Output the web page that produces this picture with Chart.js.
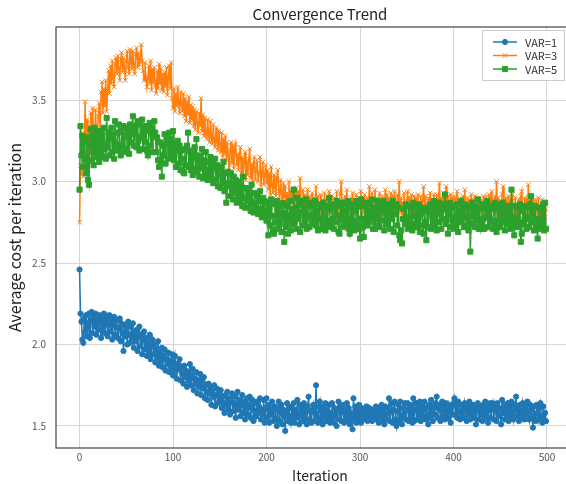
<!DOCTYPE html>
<html>
<head>
<meta charset="utf-8">
<script src="https://cdn.jsdelivr.net/npm/chart.js@4.4.1/dist/chart.umd.min.js"></script>
<style>
  html, body { margin: 0; padding: 0; background: #fff; overflow: hidden; }
  #wrap { width: 566px; height: 484px; overflow: hidden; position: relative; }
  canvas { position: absolute; left: 0; top: 0; }
</style>
</head>
<body>
<div id="wrap"><canvas id="chart" width="600" height="484"></canvas></div>
<script>
// axis ticks and series names
const xTicks = [0, 100, 200, 300, 400, 500];
const yTicks = [1.5, 2.0, 2.5, 3.0, 3.5];
const seriesNames = ['VAR=1', 'VAR=3', 'VAR=5'];

// average cost per iteration, one value per iteration (0..499)
const var1 = [
  2.46,2.19,2.14,2.03,2.01,2.16,2.08,2.18,2.05,2.13, 2.19,2.04,2.15,2.20,2.07,2.17,2.11,2.19,2.06,2.15,
  2.09,2.18,2.13,2.04,2.16,2.10,2.19,2.07,2.14,2.17, 2.05,2.12,2.18,2.08,2.15,2.03,2.13,2.17,2.06,2.11,
  2.15,2.04,2.10,2.16,2.02,2.13,2.07,1.96,2.12,2.05, 2.10,2.00,2.14,2.06,2.01,2.11,2.04,2.13,1.98,2.07,
  2.02,2.09,1.96,2.05,2.11,1.99,2.06,1.94,2.03,2.08, 1.97,2.04,1.93,2.01,1.95,2.06,1.91,1.99,2.03,1.94,
  2.00,1.89,1.97,1.92,2.02,1.87,1.95,1.90,1.98,1.86, 1.93,1.97,1.84,1.91,1.88,1.95,1.83,1.90,1.86,1.94,
  1.81,1.89,1.93,1.84,1.79,1.88,1.85,1.91,1.78,1.86, 1.82,1.76,1.87,1.80,1.84,1.74,1.83,1.78,1.88,1.75,
  1.81,1.85,1.72,1.79,1.76,1.83,1.70,1.78,1.74,1.82, 1.69,1.77,1.73,1.80,1.67,1.75,1.71,1.66,1.76,1.70,
  1.74,1.63,1.71,1.68,1.75,1.62,1.69,1.73,1.64,1.70, 1.66,1.72,1.61,1.68,1.64,1.58,1.69,1.63,1.71,1.60,
  1.67,1.57,1.65,1.70,1.59,1.64,1.68,1.55,1.62,1.71, 1.60,1.66,1.56,1.63,1.69,1.58,1.65,1.54,1.62,1.67,
  1.57,1.63,1.68,1.55,1.61,1.66,1.53,1.64,1.59,1.56, 1.65,1.58,1.62,1.67,1.54,1.60,1.57,1.66,1.52,1.61,
  1.67,1.55,1.63,1.52,1.60,1.57,1.65,1.53,1.59,1.62, 1.55,1.50,1.61,1.65,1.53,1.58,1.63,1.51,1.60,1.56,
  1.47,1.59,1.64,1.53,1.62,1.56,1.52,1.61,1.55,1.64, 1.52,1.60,1.55,1.66,1.58,1.51,1.63,1.56,1.61,1.53,
  1.64,1.55,1.60,1.51,1.62,1.68,1.54,1.59,1.52,1.60, 1.63,1.53,1.58,1.75,1.56,1.52,1.62,1.65,1.54,1.59,
  1.51,1.62,1.56,1.64,1.53,1.60,1.55,1.63,1.52,1.58, 1.64,1.55,1.52,1.61,1.57,1.50,1.60,1.65,1.54,1.62,
  1.53,1.59,1.63,1.52,1.60,1.55,1.64,1.53,1.61,1.51, 1.58,1.54,1.48,1.67,1.55,1.62,1.52,1.60,1.54,1.63,
  1.56,1.52,1.61,1.58,1.54,1.60,1.55,1.62,1.53,1.59, 1.61,1.55,1.58,1.53,1.60,1.54,1.57,1.62,1.55,1.60,
  1.52,1.61,1.56,1.63,1.53,1.59,1.51,1.62,1.57,1.54, 1.61,1.67,1.53,1.59,1.64,1.52,1.60,1.65,1.54,1.50,
  1.59,1.63,1.53,1.65,1.56,1.51,1.61,1.57,1.64,1.54, 1.60,1.64,1.53,1.61,1.55,1.63,1.52,1.67,1.53,1.60,
  1.64,1.54,1.61,1.57,1.65,1.53,1.62,1.56,1.60,1.65, 1.54,1.61,1.57,1.51,1.63,1.55,1.66,1.58,1.53,1.62,
  1.57,1.64,1.68,1.55,1.61,1.63,1.53,1.60,1.65,1.56, 1.62,1.54,1.64,1.58,1.55,1.63,1.60,1.52,1.62,1.57,
  1.64,1.67,1.57,1.63,1.55,1.65,1.59,1.54,1.63,1.58, 1.62,1.55,1.64,1.60,1.53,1.63,1.57,1.65,1.54,1.61,
  1.57,1.63,1.55,1.61,1.51,1.60,1.64,1.54,1.62,1.57, 1.61,1.53,1.63,1.57,1.65,1.55,1.62,1.52,1.60,1.64,
  1.55,1.61,1.64,1.54,1.60,1.63,1.53,1.64,1.57,1.61, 1.56,1.51,1.66,1.58,1.63,1.54,1.61,1.57,1.64,1.53,
  1.62,1.55,1.65,1.58,1.54,1.63,1.60,1.68,1.56,1.62, 1.53,1.63,1.58,1.55,1.64,1.60,1.54,1.62,1.57,1.65,
  1.58,1.54,1.63,1.60,1.55,1.49,1.62,1.57,1.53,1.63, 1.58,1.54,1.61,1.64,1.56,1.52,1.62,1.53,1.58,1.53
];
const var3 = [
  2.75,3.10,3.04,3.30,3.03,3.20,3.49,3.12,3.38,3.05, 3.34,3.17,3.42,3.22,3.45,3.28,3.19,3.44,3.30,3.24,
  3.40,3.48,3.31,3.55,3.61,3.42,3.57,3.46,3.62,3.43, 3.56,3.68,3.54,3.71,3.60,3.74,3.63,3.58,3.72,3.76,
  3.66,3.77,3.69,3.62,3.75,3.79,3.67,3.76,3.70,3.62, 3.74,3.80,3.70,3.66,3.81,3.73,3.69,3.80,3.71,3.66,
  3.78,3.82,3.70,3.79,3.72,3.75,3.84,3.74,3.68,3.62, 3.73,3.64,3.58,3.63,3.71,3.60,3.74,3.56,3.69,3.61,
  3.70,3.59,3.54,3.68,3.57,3.72,3.60,3.69,3.56,3.66, 3.55,3.67,3.58,3.70,3.53,3.64,3.71,3.57,3.73,3.51,
  3.45,3.57,3.43,3.54,3.46,3.58,3.48,3.42,3.55,3.47, 3.43,3.54,3.40,3.51,3.37,3.49,3.41,3.52,3.36,3.47,
  3.38,3.46,3.34,3.44,3.32,3.43,3.36,3.30,3.42,3.34, 3.51,3.31,3.41,3.28,3.39,3.30,3.26,3.38,3.29,3.24,
  3.37,3.27,3.23,3.35,3.25,3.21,3.33,3.24,3.19,3.31, 3.22,3.18,3.30,3.15,3.26,3.17,3.28,3.13,3.24,3.16,
  3.02,3.19,3.24,3.11,3.22,3.08,3.20,3.23,3.10,3.17, 3.07,3.16,3.21,3.05,3.15,3.03,3.13,3.18,3.01,3.12,
  3.04,3.14,3.20,3.02,3.11,2.99,3.10,3.15,3.01,3.07, 3.13,3.00,3.06,3.15,2.97,3.05,3.12,2.98,3.04,3.10,
  2.99,3.07,2.95,3.05,2.92,3.09,2.98,2.93,3.04,2.96, 2.91,3.02,3.07,2.94,2.89,3.01,2.93,2.87,2.99,2.90,
  2.97,2.86,2.93,2.88,3.00,2.84,2.94,2.87,2.96,2.85, 2.93,2.83,2.96,2.86,2.94,2.85,3.02,2.88,2.82,2.95,
  2.84,2.92,2.81,2.90,2.95,2.83,2.91,2.80,2.89,2.93, 2.82,2.90,2.84,2.97,2.81,2.91,2.85,2.79,2.92,2.83,
  2.89,2.80,2.93,2.84,2.78,2.90,2.82,2.94,2.86,2.81, 2.91,2.83,2.79,2.90,2.82,2.94,2.85,2.80,2.88,2.93,
  3.00,2.82,2.89,2.79,2.91,2.84,2.95,2.81,2.88,2.78, 2.90,2.83,2.93,2.80,2.89,2.82,2.92,2.85,2.78,2.90,
  2.83,2.94,2.80,2.89,2.82,2.92,2.85,2.79,2.90,2.83, 2.97,2.86,2.81,2.93,2.83,2.80,2.95,2.84,2.90,2.81,
  2.88,2.93,2.82,2.79,2.91,2.84,2.81,2.95,2.86,2.92, 2.82,2.90,2.79,2.93,2.84,2.91,2.80,2.94,2.86,2.82,
  2.92,2.84,3.00,2.81,2.90,2.79,2.87,2.93,2.83,2.78, 2.88,2.94,2.82,2.90,2.80,2.92,2.84,2.81,2.91,2.83,
  2.90,2.80,2.92,2.84,2.81,2.91,2.83,2.88,2.97,2.82, 2.91,2.83,2.79,2.90,2.85,2.93,2.81,2.89,2.80,2.92,
  2.85,2.81,2.92,2.83,2.89,2.99,2.80,2.90,2.84,2.93, 2.82,2.89,2.97,2.83,2.91,2.79,2.86,2.92,2.81,2.90,
  2.83,2.91,2.80,2.89,2.94,2.82,2.87,2.78,2.90,2.84, 2.91,2.80,2.95,2.85,2.81,2.90,2.78,2.89,2.83,2.92,
  2.81,2.89,2.83,2.91,2.79,2.86,2.73,2.84,2.90,2.81, 2.88,2.82,2.91,2.84,2.80,2.90,2.87,2.79,2.92,2.83,
  2.89,2.94,2.82,2.86,2.91,2.80,3.00,2.83,2.90,2.81, 2.88,2.80,2.92,2.97,2.83,2.79,2.90,2.82,2.87,2.91,
  2.81,2.89,2.84,2.92,2.82,2.78,2.90,2.72,2.86,2.81, 2.89,2.83,2.91,2.94,2.82,2.79,2.90,2.84,2.88,2.80,
  2.98,2.82,2.88,2.79,2.90,2.83,2.80,2.89,2.77,2.86, 2.82,2.90,2.79,2.85,2.77,2.89,2.81,2.86,2.78,2.83
];
const var5 = [
  2.95,3.34,3.16,3.28,3.09,3.24,3.14,3.05,3.27,3.01, 2.98,3.22,3.32,3.13,3.28,3.10,3.33,3.18,3.30,3.15,
  3.26,3.12,3.31,3.18,3.28,3.15,3.33,3.20,3.14,3.39, 3.21,3.30,3.16,3.27,3.33,3.18,3.29,3.14,3.37,3.23,
  3.19,3.30,3.35,3.21,3.16,3.31,3.22,3.34,3.18,3.28, 3.33,3.20,3.30,3.17,3.35,3.24,3.31,3.40,3.22,3.29,
  3.34,3.21,3.37,3.25,3.19,3.35,3.27,3.38,3.20,3.32, 3.24,3.34,3.19,3.16,3.31,3.36,3.22,3.33,3.18,3.29,
  3.37,3.30,3.18,3.27,3.13,3.09,3.24,3.13,3.03,3.22, 3.16,3.29,3.11,3.25,3.27,3.14,3.30,3.18,3.26,3.15,
  3.31,3.13,3.23,3.09,3.20,3.25,3.11,3.22,3.07,3.19, 3.14,3.06,3.05,3.20,3.10,3.22,3.30,3.09,3.19,3.07,
  3.17,3.04,3.15,3.21,3.08,3.26,3.06,3.16,3.03,3.14, 3.08,3.20,3.02,3.13,3.04,3.18,3.07,3.01,3.12,3.03,
  3.15,3.02,3.11,2.99,3.09,3.14,3.01,3.10,2.97,3.08, 3.04,2.96,3.09,2.99,3.12,2.94,3.05,2.87,2.97,3.06,
  2.99,2.91,3.05,2.95,2.89,3.03,2.93,3.01,2.87,2.97, 2.91,3.00,2.88,2.97,2.85,3.03,2.90,2.84,2.96,2.88,
  2.95,2.84,2.92,2.82,2.98,2.87,2.81,2.93,2.86,2.83, 2.91,2.80,2.88,2.94,2.83,2.78,2.90,2.82,2.88,2.79,
  2.76,2.87,2.67,2.84,2.73,2.89,2.79,2.70,2.68,2.86, 2.75,2.88,2.71,2.83,2.74,2.86,2.69,2.80,2.87,2.63,
  2.81,2.72,2.85,2.68,2.79,2.88,2.70,2.83,2.74,2.95, 2.75,2.84,2.71,2.90,2.77,2.86,2.69,2.81,2.88,2.73,
  2.83,2.76,2.89,2.71,2.85,2.78,2.72,2.87,2.79,2.74, 2.85,2.76,2.88,2.73,2.82,2.70,2.86,2.77,2.71,2.84,
  2.74,2.87,2.78,2.70,2.85,2.73,2.83,2.90,2.76,2.72, 2.86,2.77,2.71,2.84,2.75,2.88,2.79,2.69,2.68,2.85,
  2.76,2.87,2.72,2.82,2.74,2.86,2.77,2.88,2.71,2.68, 2.84,2.73,2.86,2.76,2.70,2.82,2.88,2.74,2.85,2.71,
  2.65,2.89,2.77,2.72,2.66,2.85,2.76,2.87,2.73,2.82, 2.75,2.86,2.78,2.89,2.71,2.84,2.71,2.77,2.88,2.73,
  2.82,2.72,2.85,2.76,2.87,2.88,2.70,2.81,2.74,2.84, 2.75,2.86,2.71,2.83,2.77,2.88,2.69,2.80,2.85,2.86,
  2.73,2.84,2.67,2.64,2.70,2.62,2.77,2.83,2.74,2.86, 2.76,2.71,2.85,2.78,2.73,2.84,2.70,2.87,2.79,2.74,
  2.85,2.72,2.81,2.86,2.69,2.80,2.84,2.73,2.68,2.82, 2.75,2.64,2.84,2.72,2.81,2.86,2.71,2.83,2.76,2.88,
  2.73,2.84,2.70,2.81,2.87,2.75,2.82,2.71,2.85,2.77, 2.86,2.92,2.74,2.83,2.68,2.80,2.87,2.72,2.84,2.76,
  2.71,2.85,2.78,2.73,2.86,2.69,2.82,2.75,2.88,2.77, 2.84,2.72,2.86,2.78,2.73,2.85,2.70,2.83,2.57,2.79,
  2.87,2.74,2.82,2.72,2.85,2.76,2.89,2.71,2.84,2.71, 2.74,2.86,2.77,2.71,2.84,2.78,2.88,2.72,2.83,2.75,
  2.85,2.76,2.71,2.83,2.87,2.73,2.69,2.84,2.76,2.86, 2.72,2.83,2.75,2.87,2.78,2.70,2.84,2.74,2.85,2.77,
  2.83,2.71,2.95,2.78,2.74,2.67,2.85,2.76,2.72,2.84, 2.75,2.86,2.63,2.68,2.82,2.74,2.85,2.77,2.71,2.84,
  2.78,2.72,2.86,2.91,2.75,2.82,2.70,2.85,2.77,2.73, 2.65,2.84,2.76,2.71,2.83,2.74,2.86,2.70,2.87,2.71
];

const FONT = '"Noto Sans CJK SC", "Noto Sans", sans-serif';
const COLORS = ['#1f77b4', '#ff7f0e', '#2ca02c'];
const STYLES = [
  { pointStyle: 'circle', radius: 2.6 },
  { pointStyle: 'crossRot', radius: 3.2 },
  { pointStyle: 'rect', radius: 3.6 }
];

function toPoints(values) {
  return values.map((v, i) => ({ x: i, y: v }));
}

function makeDataset(idx, values) {
  return {
    label: seriesNames[idx],
    data: toPoints(values),
    borderColor: COLORS[idx],
    backgroundColor: COLORS[idx],
    borderWidth: 1.5,
    pointStyle: STYLES[idx].pointStyle,
    pointRadius: STYLES[idx].radius,
    pointBorderWidth: 1,
    pointBorderColor: COLORS[idx],
    pointBackgroundColor: COLORS[idx],
    order: 2 - idx  // later series drawn on top, like matplotlib
  };
}

// frame, title and legend drawn on top of the chart
const decorPlugin = {
  id: 'decor',
  afterDraw(chart) {
    const ctx = chart.ctx;
    const a = chart.chartArea;
    ctx.save();
    ctx.strokeStyle = '#444';
    ctx.lineWidth = 1.2;
    ctx.strokeRect(a.left, a.top, a.right - a.left, a.bottom - a.top);

    ctx.fillStyle = '#222';
    ctx.font = '15px ' + FONT;
    ctx.textAlign = 'center';
    ctx.textBaseline = 'middle';
    ctx.fillText('Convergence Trend', (a.left + a.right) / 2, 14);

    // legend box
    const bx = 482.5, by = 30.5, bw = 82, bh = 50;
    ctx.fillStyle = 'rgba(255,255,255,0.85)';
    ctx.fillRect(bx, by, bw, bh);
    ctx.strokeStyle = '#cccccc';
    ctx.lineWidth = 1;
    ctx.strokeRect(bx, by, bw, bh);
    const rows = [42, 55.5, 69];
    seriesNames.forEach((name, i) => {
      const y = rows[i];
      ctx.strokeStyle = COLORS[i];
      ctx.fillStyle = COLORS[i];
      ctx.lineWidth = 1.5;
      ctx.beginPath();
      ctx.moveTo(493, y);
      ctx.lineTo(517, y);
      ctx.stroke();
      ctx.lineWidth = 1;
      Chart.helpers.drawPoint(ctx, { pointStyle: STYLES[i].pointStyle, radius: STYLES[i].radius, borderWidth: 1, rotation: 0 }, 505, y);
      ctx.fillStyle = '#333';
      ctx.font = '11px ' + FONT;
      ctx.textAlign = 'left';
      ctx.textBaseline = 'middle';
      ctx.fillText(name, 525, y + 0.5);
    });
    ctx.restore();
  }
};

const gridStyle = { color: '#d6d6d6', lineWidth: 1, drawTicks: false };

new Chart(document.getElementById('chart'), {
  type: 'line',
  data: {
    datasets: [makeDataset(0, var1), makeDataset(1, var3), makeDataset(2, var5)]
  },
  options: {
    responsive: false,
    animation: false,
    devicePixelRatio: 1,
    layout: { padding: { top: 27, right: 16, left: 0, bottom: 0 } },
    elements: { line: { tension: 0 } },
    plugins: { legend: { display: false }, tooltip: { enabled: false } },
    scales: {
      x: {
        type: 'linear',
        min: -25.2,
        max: 539.6,
        afterBuildTicks: (axis) => { axis.ticks = xTicks.map(v => ({ value: v })); },
        afterFit: (s) => { s.height = 36; },
        grid: gridStyle,
        border: { display: false },
        ticks: { color: '#555', font: { family: FONT, size: 10 }, padding: 3, maxRotation: 0 },
        title: { display: true, text: 'Iteration', color: '#222', font: { family: FONT, size: 14 }, padding: { top: 0, bottom: 0 } }
      },
      y: {
        min: 1.365,
        max: 3.948,
        afterBuildTicks: (axis) => { axis.ticks = yTicks.map(v => ({ value: v })); },
        afterFit: (s) => { s.width = 56; },
        grid: gridStyle,
        border: { display: false },
        ticks: { color: '#555', font: { family: FONT, size: 10 }, padding: 10, callback: (v) => v.toFixed(1) },
        title: { display: true, text: 'Average cost per iteration', color: '#222', font: { family: FONT, size: 16 }, padding: { top: 5, bottom: 0 } }
      }
    }
  },
  plugins: [decorPlugin]
});
</script>
</body>
</html>
